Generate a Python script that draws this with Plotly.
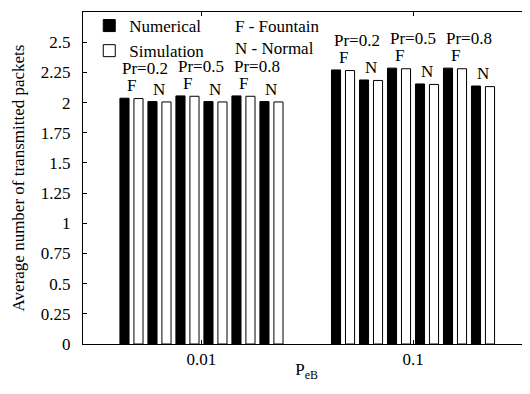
import plotly.graph_objects as go

# ---- data ----
categories = ["0.01", "0.1"]
pr_labels = ["Pr=0.2", "Pr=0.5", "Pr=0.8"]
kinds = ["F", "N"]
# order of bar pairs: (Pr=0.2,F), (Pr=0.2,N), (Pr=0.5,F), (Pr=0.5,N), (Pr=0.8,F), (Pr=0.8,N)
numerical_001 = [2.036, 2.008, 2.055, 2.008, 2.055, 2.008]
simulation_001 = [2.033, 2.005, 2.052, 2.005, 2.052, 2.005]
numerical_01 = [2.270, 2.187, 2.285, 2.154, 2.285, 2.137]
simulation_01 = [2.265, 2.183, 2.280, 2.150, 2.280, 2.132]
y_ticks = [0, 0.25, 0.5, 0.75, 1, 1.25, 1.5, 1.75, 2, 2.25, 2.5]
y_tick_text = ["0", "0.25", "0.5", "0.75", "1", "1.25", "1.5", "1.75", "2", "2.25", "2.5"]

FONT = "Liberation Serif, Times New Roman, serif"
FS = 17
BARGAP = 0.206
BARGROUPGAP = 0.35

fig = go.Figure()
xs = [0, 1]
for j in range(6):
    fig.add_trace(go.Bar(
        x=xs, y=[numerical_001[j], numerical_01[j]],
        name="Numerical", legendgroup="num", showlegend=(j == 0),
        marker=dict(color="black", line=dict(color="black", width=1)),
        hoverinfo="skip"))
    fig.add_trace(go.Bar(
        x=xs, y=[simulation_001[j], simulation_01[j]],
        name="Simulation", legendgroup="sim", showlegend=(j == 0),
        marker=dict(color="white", line=dict(color="black", width=1)),
        hoverinfo="skip"))

# annotation positions derived from group layout
w = (1 - BARGAP) / 12.0
annotations = []
groups = [numerical_001, numerical_01]
for g, vals in enumerate(groups):
    for j in range(6):
        annotations.append(dict(
            x=xs[g] + (2 * j - 5) * w, y=vals[j], xref="x", yref="y",
            text=kinds[j % 2], showarrow=False, yanchor="bottom", yshift=1,
            font=dict(family=FONT, size=FS, color="black")))
    for k in range(3):
        annotations.append(dict(
            x=xs[g] + (4 * k - 4) * w, y=vals[2 * k], xref="x", yref="y",
            text=pr_labels[k], showarrow=False, yanchor="bottom", yshift=18,
            font=dict(family=FONT, size=FS, color="black")))

annotations.append(dict(x=0.3356, y=0.955, xref="paper", yref="paper",
                        text="F - Fountain", showarrow=False, xanchor="left", yanchor="middle",
                        font=dict(family=FONT, size=FS, color="black")))
annotations.append(dict(x=0.3356, y=0.889, xref="paper", yref="paper",
                        text="N - Normal", showarrow=False, xanchor="left", yanchor="middle",
                        font=dict(family=FONT, size=FS, color="black")))

# the page body adds an 8px offset, so the figure is sized/margined to compensate
fig.update_layout(
    autosize=False,
    width=522, height=374,
    margin=dict(l=75, r=0, t=4, b=38),
    paper_bgcolor="white", plot_bgcolor="white",
    barmode="group", bargap=BARGAP, bargroupgap=BARGROUPGAP,
    font=dict(family=FONT, size=FS, color="black"),
    showlegend=True,
    legend=dict(x=0.014, y=1.012, xanchor="left", yanchor="top",
                bgcolor="rgba(0,0,0,0)", font=dict(family=FONT, size=FS),
                tracegroupgap=0),
    xaxis=dict(range=[-0.56, 1.553], tickvals=xs, ticktext=categories,
               ticks="inside", ticklen=4, tickcolor="black", automargin=False,
               showline=True, linecolor="black", linewidth=1, mirror="ticks",
               showgrid=False, zeroline=False,
               title=dict(text="P<sub>eB</sub>", font=dict(family=FONT, size=FS), standoff=7)),
    yaxis=dict(range=[0, 2.75], tickvals=y_ticks, ticktext=y_tick_text,
               ticks="inside", ticklen=4, tickcolor="black", automargin=False,
               showline=True, linecolor="black", linewidth=1, mirror=False,
               showgrid=False, zeroline=False, ticklabelstandoff=8,
               title=dict(text="Average number of transmitted packets",
                          font=dict(family=FONT, size=FS), standoff=11)),
    yaxis2=dict(range=[0, 2.75], tickvals=y_ticks, overlaying="y", side="right",
                ticks="inside", ticklen=4, tickcolor="black", showticklabels=False,
                automargin=False,
                showline=False, showgrid=False, zeroline=False),
    annotations=annotations,
)

fig.write_html("out.html")
